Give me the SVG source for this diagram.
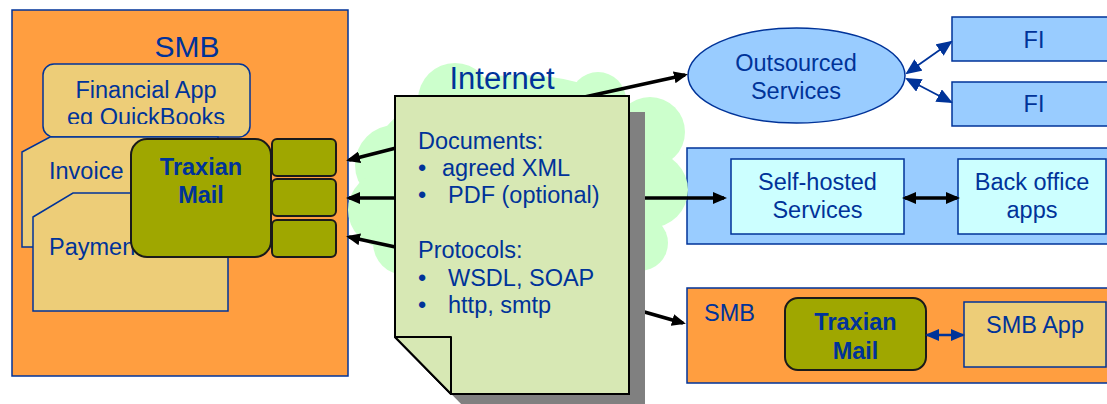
<svg xmlns="http://www.w3.org/2000/svg" width="1107" height="404" viewBox="0 0 1107 404">
<style>
.t{font-family:"Liberation Sans",Arial,sans-serif;fill:#003399;font-size:23.5px}
.c{text-anchor:middle}
.b{font-weight:bold}
.blue{stroke:#003399;stroke-width:1.5}
.ol{fill:#9FA700;stroke:#1a1a1a;stroke-width:2}
.tan{fill:#EDCD78}
.or{fill:#FF9E40}
.lb{fill:#99CCFF}
.blk{stroke:#000;stroke-width:3.5;fill:none}
.bl2{stroke:#003399;fill:none}
</style>
<defs>
<marker id="ak" markerUnits="userSpaceOnUse" viewBox="0 0 14 12" refX="11" refY="6" markerWidth="14" markerHeight="12" orient="auto-start-reverse"><path d="M0,0 L14,6 L0,12 z" fill="#000"/></marker>
<marker id="ab" markerUnits="userSpaceOnUse" viewBox="0 0 14 12" refX="12" refY="6" markerWidth="14" markerHeight="12" orient="auto-start-reverse"><path d="M0,0 L14,6 L0,12 z" fill="#003399"/></marker>
<marker id="abL" markerUnits="userSpaceOnUse" viewBox="0 0 16 14" refX="14" refY="7" markerWidth="16" markerHeight="14" orient="auto-start-reverse"><path d="M0,0 L16,7 L0,14 z" fill="#003399"/></marker>
<clipPath id="fc"><rect x="43" y="64" width="207" height="60"/></clipPath>
</defs>

<g id="smb-left">
<rect x="12" y="10" width="336" height="366" class="or blue"/>
<text x="187" y="57" class="t c" style="font-size:30px">SMB</text>
</g>
<g id="financial-app">
<rect x="43" y="64" width="207" height="73" rx="11" class="tan blue"/>
<g clip-path="url(#fc)">
<text x="146" y="98" class="t c">Financial App</text>
<text x="146" y="125" class="t c">eg QuickBooks</text>
</g>
</g>
<g id="invoice">
<polygon points="22,152 50,137 218,137 218,247 22,247" class="tan blue"/>
<text x="49" y="179" class="t">Invoice</text>
</g>
<g id="payment">
<polygon points="33,217 73,193 228,193 228,311 33,311" class="tan blue"/>
<text x="49" y="255" class="t">Payment</text>
</g>
<g id="traxian-left">
<rect x="131" y="139" width="140" height="118" rx="16" class="ol"/>
<text x="201" y="175" class="t c b">Traxian</text>
<text x="201" y="203" class="t c b">Mail</text>
</g>
<g id="ports">
<rect x="272" y="139" width="64" height="37" rx="5" class="ol"/>
<rect x="272" y="179" width="64" height="37" rx="5" class="ol"/>
<rect x="272" y="220" width="64" height="37" rx="5" class="ol"/>
</g>

<g id="outsourced">
<ellipse cx="796.5" cy="75.5" rx="108.5" ry="47.5" class="lb blue"/>
<text x="796" y="71" class="t c">Outsourced</text>
<text x="796" y="99" class="t c">Services</text>
</g>
<g id="fi-1">
<rect x="952" y="17" width="170" height="44" class="lb blue"/>
<text x="1034" y="48" class="t c">FI</text>
</g>
<g id="fi-2">
<rect x="952" y="82" width="170" height="44" class="lb blue"/>
<text x="1034" y="112" class="t c">FI</text>
</g>

<g id="self-hosted-panel">
<rect x="687" y="148" width="440" height="96" class="lb blue"/>
</g>
<g id="self-hosted">
<rect x="731" y="159" width="173" height="75" fill="#CCFFFF" class="blue"/>
<text x="817.5" y="190" class="t c">Self-hosted</text>
<text x="817.5" y="218" class="t c">Services</text>
</g>
<g id="back-office">
<rect x="958" y="159" width="148" height="75" fill="#CCFFFF" class="blue"/>
<text x="1032" y="190" class="t c">Back office</text>
<text x="1032" y="218" class="t c">apps</text>
</g>

<g id="smb-right">
<rect x="687" y="288" width="440" height="95" class="or blue"/>
<text x="704" y="321" class="t">SMB</text>
</g>
<g id="traxian-right">
<rect x="785" y="298" width="141" height="72" rx="13" class="ol"/>
<text x="855.5" y="330" class="t c b">Traxian</text>
<text x="855.5" y="359" class="t c b">Mail</text>
</g>
<g id="smb-app">
<rect x="964" y="302" width="142" height="65" class="tan blue"/>
<text x="1035" y="333" class="t c">SMB App</text>
</g>

<g id="internet-cloud" fill="#CCFFCC">
<ellipse cx="520" cy="170" rx="150" ry="95"/>
<circle cx="455" cy="100" r="37"/>
<circle cx="598" cy="100" r="28"/>
<circle cx="520" cy="110" r="35"/>
<circle cx="395" cy="165" r="40"/>
<circle cx="386" cy="210" r="38"/>
<circle cx="405" cy="243" r="32"/>
<circle cx="650" cy="132" r="35"/>
<circle cx="650" cy="190" r="38"/>
<circle cx="640" cy="243" r="28"/>
<text x="502" y="89" class="t c" style="font-size:31px">Internet</text>
</g>

<g id="connectors">
<line x1="400" y1="147" x2="349" y2="160" class="blk" marker-end="url(#ak)"/>
<line x1="400" y1="198" x2="349" y2="198" class="blk" marker-end="url(#ak)"/>
<line x1="400" y1="248" x2="349" y2="237" class="blk" marker-end="url(#ak)"/>
<line x1="580" y1="98" x2="685" y2="75" class="blk" marker-end="url(#ak)"/>
<line x1="620" y1="198" x2="724" y2="198" class="blk" marker-end="url(#ak)"/>
<line x1="620" y1="305" x2="683" y2="323" class="blk" marker-end="url(#ak)"/>
<line x1="907" y1="73" x2="951" y2="42" class="bl2" stroke-width="1.8" marker-start="url(#abL)" marker-end="url(#abL)"/>
<line x1="907" y1="79" x2="951" y2="102" class="bl2" stroke-width="1.8" marker-start="url(#abL)" marker-end="url(#abL)"/>
<line x1="905" y1="198" x2="957" y2="198" class="blk" marker-start="url(#ak)" marker-end="url(#ak)"/>
<line x1="927" y1="335" x2="963" y2="335" class="bl2" stroke-width="2.5" marker-start="url(#ab)" marker-end="url(#ab)"/>
</g>

<g id="document">
<polygon points="411,112 645,112 645,410 467,410 411,353" fill="#808080"/>
<polygon points="395,96 629,96 629,394 451,394 395,337" fill="#D7E8B4" stroke="#000" stroke-width="2"/>
<polygon points="395,337 451,337 451,394" fill="#D7E8B4" stroke="#000" stroke-width="2" stroke-linejoin="round"/>
<text class="t">
<tspan x="418" y="149">Documents:</tspan>
<tspan x="418" y="176">•</tspan><tspan x="442" y="176">agreed XML</tspan>
<tspan x="418" y="203">•</tspan><tspan x="448" y="203">PDF (optional)</tspan>
<tspan x="418" y="258">Protocols:</tspan>
<tspan x="418" y="286">•</tspan><tspan x="448" y="286">WSDL, SOAP</tspan>
<tspan x="418" y="313">•</tspan><tspan x="448" y="313">http, smtp</tspan>
</text>
</g>
</svg>
